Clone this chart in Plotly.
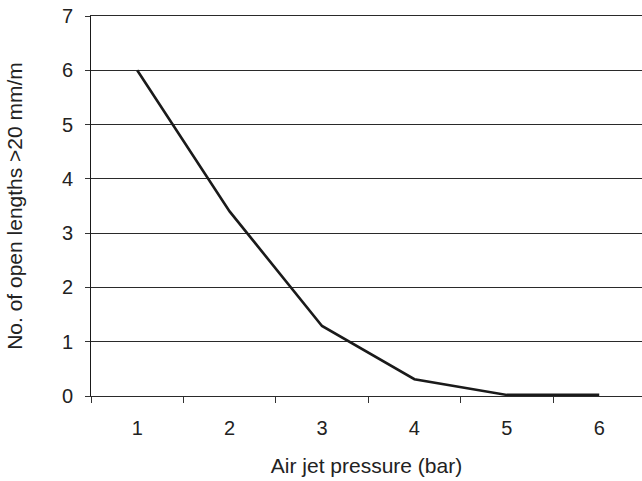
import plotly.graph_objects as go

# Air jet pressure (bar) and the resulting count of open lengths >20 mm/m
pressure = ["1", "2", "3", "4", "5", "6"]
open_lengths = [6.0, 3.4, 1.29, 0.31, 0.02, 0.02]
y_ticks = [0, 1, 2, 3, 4, 5, 6, 7]

font = dict(family="Liberation Sans, Arial, sans-serif", size=21, color="#222222")
tick_font = dict(family="Liberation Sans, Arial, sans-serif", size=20, color="#222222")

fig = go.Figure(
    go.Scatter(
        x=pressure,
        y=open_lengths,
        mode="lines",
        line=dict(color="#1a1a1a", width=2.6),
        hoverinfo="x+y",
    )
)

fig.update_layout(
    width=642,
    height=481,
    margin=dict(l=91, r=0, t=16, b=85),
    paper_bgcolor="white",
    plot_bgcolor="white",
    showlegend=False,
    font=font,
)

fig.update_xaxes(
    type="category",
    range=[-0.5, 5.463],
    tickson="boundaries",
    ticks="outside",
    ticklen=6,
    tickwidth=1,
    tickcolor="#333333",
    showgrid=False,
    showline=True,
    mirror=True,
    linecolor="#2a2a2a",
    linewidth=1,
    zeroline=False,
    tickfont=tick_font,
    ticklabelstandoff=14,
    title=dict(text="Air jet pressure (bar)", font=font, standoff=20),
)

fig.update_yaxes(
    range=[0, 7],
    tickvals=y_ticks,
    ticks="outside",
    ticklen=5,
    tickwidth=1,
    tickcolor="#333333",
    showgrid=True,
    gridcolor="#2a2a2a",
    gridwidth=1,
    showline=True,
    linecolor="#1a1a1a",
    linewidth=1,
    zeroline=False,
    tickfont=tick_font,
    ticklabelstandoff=8,
    title=dict(text="No. of open lengths >20 mm/m", font=font, standoff=33),
)

fig.write_html("out.html")
